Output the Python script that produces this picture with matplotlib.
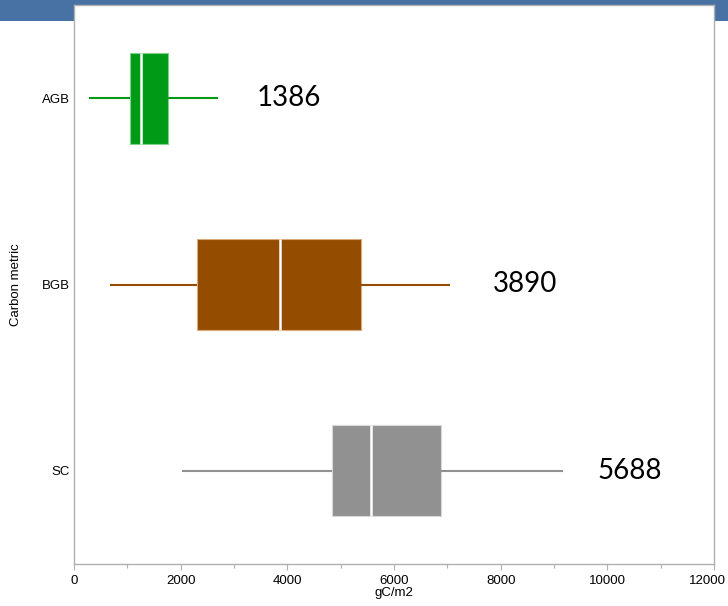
import matplotlib
matplotlib.use("Agg")
import matplotlib.pyplot as plt
import matplotlib.transforms as mtransforms
from matplotlib.patches import Rectangle

categories = ["AGB", "BGB", "SC"]
whisker_low = [287, 675, 2031]
q1 = [1050, 2312, 4843]
median = [1262, 3868, 5563]
q3 = [1768, 5376, 6882]
whisker_high = [2694, 7050, 9175]
labels_text = ["1386", "3890", "5688"]
label_x = [4031, 8457, 10426]
colors = ["#009a17", "#934c00", "#919191"]
edge_colors = ["#7fd08a", "#d9aa7a", "#d8d8d8"]

W, H = 728, 606
fig = plt.figure(figsize=(W / 100, H / 100), dpi=100)
fig.patches.append(Rectangle((0, 1 - 21 / H), 1, 21 / H, transform=fig.transFigure,
                             facecolor="#4772a3", edgecolor="none", zorder=0))
ax = fig.add_axes([74 / W, (H - 564) / H, (714 - 74) / W, (564 - 5) / H])
ax.set_zorder(1)

positions = [1, 2, 3]
for i, cat in enumerate(categories):
    stats = [dict(label=cat, whislo=whisker_low[i], q1=q1[i], med=median[i],
                  q3=q3[i], whishi=whisker_high[i], fliers=[])]
    ax.bxp(stats, positions=[positions[i]], widths=0.49, vert=False,
           patch_artist=True, showcaps=False, showfliers=False,
           boxprops=dict(facecolor=colors[i], edgecolor=edge_colors[i], linewidth=0.8),
           whiskerprops=dict(color=colors[i], linewidth=1.5, solid_capstyle="butt"),
           medianprops=dict(color="white", linewidth=1.8, solid_capstyle="butt"))
    ax.text(label_x[i], positions[i], labels_text[i], ha="center", va="center",
            fontsize=20, family=["Lato", "DejaVu Sans"], color="black")

ax.set_xlim(0, 12000)
ax.set_ylim(3.5, 0.5)
ax.set_yticks(positions)
ax.set_yticklabels(categories)
ax.set_xticks(range(0, 12001, 2000))
ax.set_xticks(range(1000, 12000, 2000), minor=True)
ax.tick_params(axis="y", length=0, pad=3)
ax.tick_params(axis="x", which="major", length=4, color="#b0b0b0", width=0.8, pad=4)
ax.tick_params(axis="x", which="minor", length=3, color="#b0b0b0", width=0.8)
for s in ax.spines.values():
    s.set_color("#b0b0b0")
    s.set_linewidth(1.0)
ax.set_xlabel("gC/m2", fontsize=9.5, family=["Liberation Sans", "DejaVu Sans"], labelpad=0)
ax.set_ylabel("Carbon metric", fontsize=9.5, family=["Liberation Sans", "DejaVu Sans"])
ax.yaxis.set_label_coords((22 - 74) / 640, 0.5)

for lbl in ax.get_xticklabels() + ax.get_yticklabels():
    lbl.set_family(["Liberation Sans", "DejaVu Sans"])
    lbl.set_fontsize(9.5)
last = ax.xaxis.get_major_ticks()[-1].label1
last.set_transform(last.get_transform() +
                   mtransforms.ScaledTranslation(-7 / 100, 0, fig.dpi_scale_trans))

fig.savefig("out.png", dpi=100)
